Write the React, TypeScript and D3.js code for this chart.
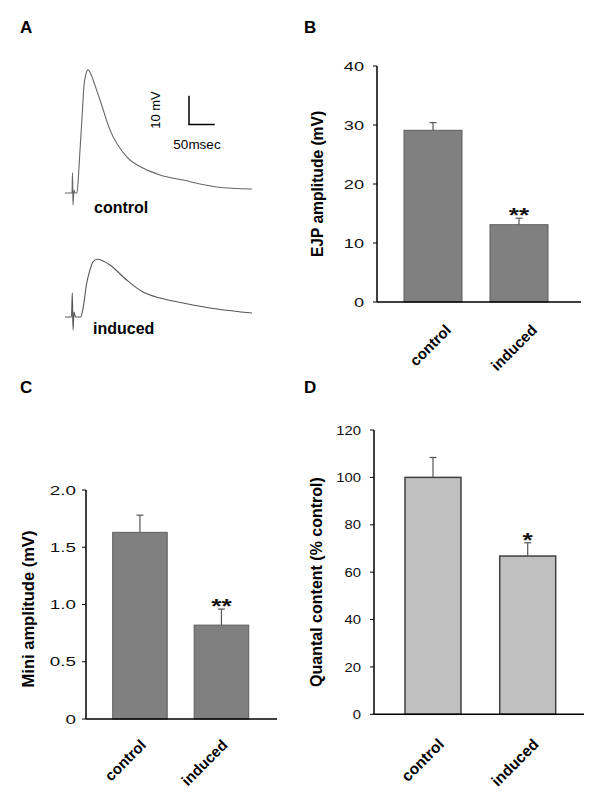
import React from "react";
import * as d3 from "d3";

// ---------- DATA ----------
const CATEGORIES = ["control", "induced"];

// Panel A: representative EJP traces (time in ms, voltage in mV relative to baseline)
const CONTROL_T = [0, 11.7, 13.6, 14.6, 15.6, 17.5, 19.5, 23.3, 26.3, 29.2, 33.1, 37.0, 39.9, 42.2, 44.7, 47.7, 51.6, 57.4, 68.1, 87.5, 120.6, 151.8, 184.8, 229.6, 295.7, 363.8];
const CONTROL_V = [0, 0, 0, 7.0, -4.2, 1.0, 0, 0, 6.3, 15.0, 26.1, 37.6, 40.8, 42.3, 42.9, 42.4, 40.9, 38.0, 32.4, 22.0, 12.5, 8.7, 6.3, 4.5, 2.1, 1.4];
const INDUCED_T = [0, 12.6, 14.2, 15.6, 17.5, 20.4, 30.5, 35.6, 42.2, 48.6, 54.5, 62.8, 72.0, 87.5, 120.0, 151.8, 184.8, 229.6, 295.7, 363.8];
const INDUCED_V = [0, 0, 8.4, -4.5, 1.7, 0, 0, 3.6, 11.8, 16.4, 19.2, 20.1, 19.7, 18.1, 12.9, 8.7, 6.6, 4.9, 2.8, 1.4];
const SCALE_MV = 10;
const SCALE_MS = 50;

// Panel B: EJP amplitude (mV)
const EJP_MEAN = [29.1, 13.1];
const EJP_SEM = [1.3, 1.1];
const EJP_TICKS = [0, 10, 20, 30, 40];
const EJP_TICK_LABELS = ["0", "10", "20", "30", "40"];
const EJP_SIG = ["", "**"];

// Panel C: Mini amplitude (mV)
const MINI_MEAN = [1.63, 0.82];
const MINI_SEM = [0.15, 0.14];
const MINI_TICKS = [0, 0.5, 1.0, 1.5, 2.0];
const MINI_TICK_LABELS = ["0", "0.5", "1.0", "1.5", "2.0"];
const MINI_SIG = ["", "**"];

// Panel D: Quantal content (% control)
const QC_MEAN = [100, 66.8];
const QC_SEM = [8.4, 5.6];
const QC_TICKS = [0, 20, 40, 60, 80, 100, 120];
const QC_TICK_LABELS = ["0", "20", "40", "60", "80", "100", "120"];
const QC_SIG = ["", "*"];

const FONT = "Arial, 'Liberation Sans', Helvetica, sans-serif";

type BarPanelProps = {
  means: number[];
  sems: number[];
  ticks: number[];
  tickLabels: string[];
  sig: string[];
  title: string;
  titleSize: number;
  yDomain: [number, number];
  yRange: [number, number];
  axisX: number;
  axisEnd: number;
  barsRange: [number, number];
  paddingInner: number;
  fill: string;
  stroke: string;
  strokeWidth: number;
  tickLabelX: number;
  tickSize: number;
  tickStretch: number;
  titleX: number;
  titleY: number;
  labelDx: number;
  labelDy: number;
  labelSize: number;
};

function BarPanel(p: BarPanelProps) {
  const y = d3.scaleLinear().domain(p.yDomain).range(p.yRange);
  const x = d3.scaleBand<string>().domain(CATEGORIES).range(p.barsRange).paddingInner(p.paddingInner).paddingOuter(0);
  const y0 = y(0);
  const bw = x.bandwidth();
  return (
    <g fontFamily={FONT}>
      {CATEGORIES.map((c, i) => {
        const bx = x(c)!;
        const cx = bx + bw / 2;
        const top = y(p.means[i]);
        const errTop = y(p.means[i] + p.sems[i]);
        return (
          <g key={c}>
            <line x1={cx} x2={cx} y1={top} y2={errTop} stroke="#555" strokeWidth={1.2} />
            <line x1={cx - 3.5} x2={cx + 3.5} y1={errTop} y2={errTop} stroke="#555" strokeWidth={1.2} />
            <rect x={bx} y={top} width={bw} height={y0 - top} fill={p.fill} stroke={p.stroke} strokeWidth={p.strokeWidth} />
            {p.sig[i] ? (
              <text
                transform={`translate(${cx},${errTop + 4}) scale(1.25,1)`}
                textAnchor="middle"
                fontSize={21}
                fontWeight="bold"
                fill="#111"
              >
                {p.sig[i]}
              </text>
            ) : null}
            <text
              transform={`translate(${cx + p.labelDx},${y0 + p.labelDy}) rotate(-45)`}
              textAnchor="end"
              fontSize={p.labelSize}
              fontWeight="bold"
              fill="#000"
            >
              {c}
            </text>
          </g>
        );
      })}
      <line x1={p.axisX} x2={p.axisX} y1={y(p.yDomain[1])} y2={y0} stroke="#000" strokeWidth={1.5} />
      {p.ticks.map((t, i) => (
        <g key={t}>
          <line x1={p.axisX - 4} x2={p.axisX} y1={y(t)} y2={y(t)} stroke="#000" strokeWidth={1} />
          <text
            transform={`translate(${p.tickLabelX},${y(t)}) scale(${p.tickStretch},1)`}
            dy="0.35em"
            textAnchor="end"
            fontSize={p.tickSize}
            fill="#111"
          >
            {p.tickLabels[i]}
          </text>
        </g>
      ))}
      <line x1={p.axisX} x2={p.axisEnd} y1={y0} y2={y0} stroke="#000" strokeWidth={1.6} />
      <text
        transform={`translate(${p.titleX},${p.titleY}) rotate(-90)`}
        textAnchor="middle"
        fontSize={p.titleSize}
        fontWeight="bold"
        fill="#000"
      >
        {p.title}
      </text>
    </g>
  );
}

function TracePanel() {
  const x = d3.scaleLinear().domain([0, SCALE_MS]).range([65, 65 + 25.7]);
  const yC = d3.scaleLinear().domain([0, SCALE_MV]).range([193, 193 - 28.7]);
  const yI = d3.scaleLinear().domain([0, SCALE_MV]).range([317, 317 - 28.7]);
  const lineC = d3
    .line<number>()
    .x((_, i) => x(CONTROL_T[i]))
    .y((v) => yC(v))
    .curve(d3.curveMonotoneX);
  const lineI = d3
    .line<number>()
    .x((_, i) => x(INDUCED_T[i]))
    .y((v) => yI(v))
    .curve(d3.curveMonotoneX);
  const sbX = 189;
  const sbY = 124.5;
  const sbW = x(SCALE_MS) - x(0);
  const sbH = yC(0) - yC(SCALE_MV);
  return (
    <g fontFamily={FONT}>
      <path d={lineC(CONTROL_V) || ""} fill="none" stroke="#666" strokeWidth={1.1} />
      <path d={lineI(INDUCED_V) || ""} fill="none" stroke="#555" strokeWidth={1.1} />
      <path d={`M${sbX},${sbY - sbH}V${sbY}H${sbX + sbW}`} fill="none" stroke="#000" strokeWidth={1.5} />
      <text transform={`translate(${160},${110}) rotate(-90)`} textAnchor="middle" fontSize={13} fill="#000">
        10 mV
      </text>
      <text x={197} y={149} textAnchor="middle" fontSize={13.5} fill="#000">
        50msec
      </text>
      <text x={94} y={213} fontSize={16} fontWeight="bold" fill="#000">
        control
      </text>
      <text x={93} y={334} fontSize={16} fontWeight="bold" fill="#000">
        induced
      </text>
    </g>
  );
}

export default function App() {
  return (
    <svg
      width={600}
      height={810}
      viewBox="0 0 600 810"
      style={{ position: "absolute", left: 0, top: 0, background: "#fff" }}
    >
      <rect width={600} height={810} fill="#fff" />
      <g fontFamily={FONT} fontWeight="bold" fontSize={17} fill="#000">
        <text x={20} y={33}>A</text>
        <text x={304} y={33}>B</text>
        <text x={20} y={393}>C</text>
        <text x={304} y={393}>D</text>
      </g>
      <TracePanel />
      <BarPanel
        means={EJP_MEAN}
        sems={EJP_SEM}
        ticks={EJP_TICKS}
        tickLabels={EJP_TICK_LABELS}
        sig={EJP_SIG}
        title="EJP amplitude (mV)"
        titleSize={15.6}
        yDomain={[0, 40]}
        yRange={[302, 66]}
        axisX={377}
        axisEnd={581}
        barsRange={[404, 548]}
        paddingInner={0.3256}
        fill="#808080"
        stroke="#5c5c5c"
        strokeWidth={1}
        tickLabelX={364}
        tickSize={13}
        tickStretch={1.4}
        titleX={323}
        titleY={184}
        labelDx={19}
        labelDy={29}
        labelSize={15}
      />
      <BarPanel
        means={MINI_MEAN}
        sems={MINI_SEM}
        ticks={MINI_TICKS}
        tickLabels={MINI_TICK_LABELS}
        sig={MINI_SIG}
        title="Mini amplitude (mV)"
        titleSize={16.5}
        yDomain={[0, 2]}
        yRange={[719, 490]}
        axisX={86}
        axisEnd={277}
        barsRange={[112.7, 248.7]}
        paddingInner={0.331}
        fill="#808080"
        stroke="#5c5c5c"
        strokeWidth={1}
        tickLabelX={76}
        tickSize={13}
        tickStretch={1.45}
        titleX={34}
        titleY={609}
        labelDx={7}
        labelDy={27}
        labelSize={15}
      />
      <BarPanel
        means={QC_MEAN}
        sems={QC_SEM}
        ticks={QC_TICKS}
        tickLabels={QC_TICK_LABELS}
        sig={QC_SIG}
        title="Quantal content (% control)"
        titleSize={16}
        yDomain={[0, 120]}
        yRange={[714.3, 430]}
        axisX={374}
        axisEnd={584}
        barsRange={[405, 555.7]}
        paddingInner={0.409}
        fill="#c0c0c0"
        stroke="#404040"
        strokeWidth={1.5}
        tickLabelX={361}
        tickSize={13.5}
        tickStretch={1.1}
        titleX={322}
        titleY={582}
        labelDx={12}
        labelDy={31}
        labelSize={15.5}
      />
    </svg>
  );
}
